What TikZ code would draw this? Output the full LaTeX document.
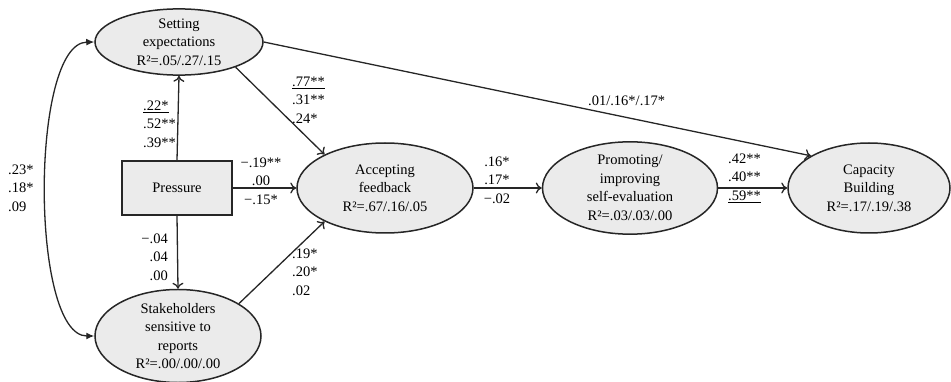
\documentclass[tikz,border=0pt]{standalone}
\usepackage{fontspec}
\setmainfont{Liberation Serif}
\usetikzlibrary{shapes.geometric,arrows.meta}
\begin{document}
\begin{tikzpicture}[x=1pt,y=-1pt,
  ell/.style={ellipse,draw=black!85,fill=black!8,line width=1.5pt,inner sep=0pt,align=center,
    font=\fontsize{14.5}{18.5}\selectfont},
  boxnode/.style={rectangle,draw=black!85,fill=black!8,line width=1.3pt,inner sep=0pt,align=center,
    font=\fontsize{14.5}{18.5}\selectfont},
  lab/.style={inner sep=0pt,font=\fontsize{14.5}{18.5}\selectfont},
  conn/.style={draw=black!85,line width=1.3pt,-{To[length=6pt,width=11pt]}},
  corr/.style={draw=black!85,line width=1.3pt,{Latex[length=8pt,width=7pt]}-{Latex[length=8pt,width=7pt]}}]
\useasboundingbox (0,0) rectangle (951,382);
\node[ell,minimum width=168pt,minimum height=64pt] (SE) at (179,42) {Setting\\expectations\\R²=.05/.27/.15};
\node[boxnode,minimum width=110pt,minimum height=54pt] (PR) at (177,188) {Pressure};
\node[ell,minimum width=166pt,minimum height=91pt] (SH) at (178,336) {Stakeholders\\sensitive to\\reports\\R²=.00/.00/.00};
\node[ell,minimum width=176pt,minimum height=90pt] (AF) at (385,188) {Accepting\\feedback\\R²=.67/.16/.05};
\node[ell,minimum width=175pt,minimum height=90pt] (PI) at (630,188) {Promoting/\\improving\\self-evaluation\\R²=.03/.03/.00};
\node[ell,minimum width=162pt,minimum height=90pt] (CB) at (869,188) {Capacity\\Building\\R²=.17/.19/.38};

\draw[conn] (PR.north) -- (SE.south);
\draw[conn] (PR.south) -- (SH.north);
\draw[conn] (PR.east) -- (AF.west);
\draw[conn] (SE.-24) -- (AF.151);
\draw[conn] (SH.28) -- (AF.209);
\draw[conn] (AF.east) -- (PI.west);
\draw[conn] (PI.east) -- (CB.west);
\draw[conn] (SE.east) -- (CB.151);
\draw[corr] (SE.west) .. controls (30,43) and (30,336) .. (SH.west);

\node[lab,anchor=west,align=left] (l1) at (143,124) {\underline{.22*}\\.52**\\.39**};
\node[lab,align=center] (l2) at (261,181) {−.19**\\.00\\−.15*};
\node[lab,anchor=east,align=right] (l3) at (168,257) {−.04\\.04\\.00};
\node[lab,anchor=west,align=left] (l4) at (292,100) {\underline{.77**}\\.31**\\.24*};
\node[lab,anchor=west,align=left] (l5) at (292,272) {.19*\\.20*\\.02};
\node[lab,align=center] (l6) at (497,180) {.16*\\.17*\\−.02};
\node[lab,anchor=west,align=left] (l7) at (728,178) {.42**\\.40**\\\underline{.59**}};
\node[lab,anchor=west] (l8) at (588,101) {.01/.16*/.17*};
\node[lab,anchor=west,align=left] (l9) at (8,188) {.23*\\.18*\\.09};
\end{tikzpicture}
\end{document}
